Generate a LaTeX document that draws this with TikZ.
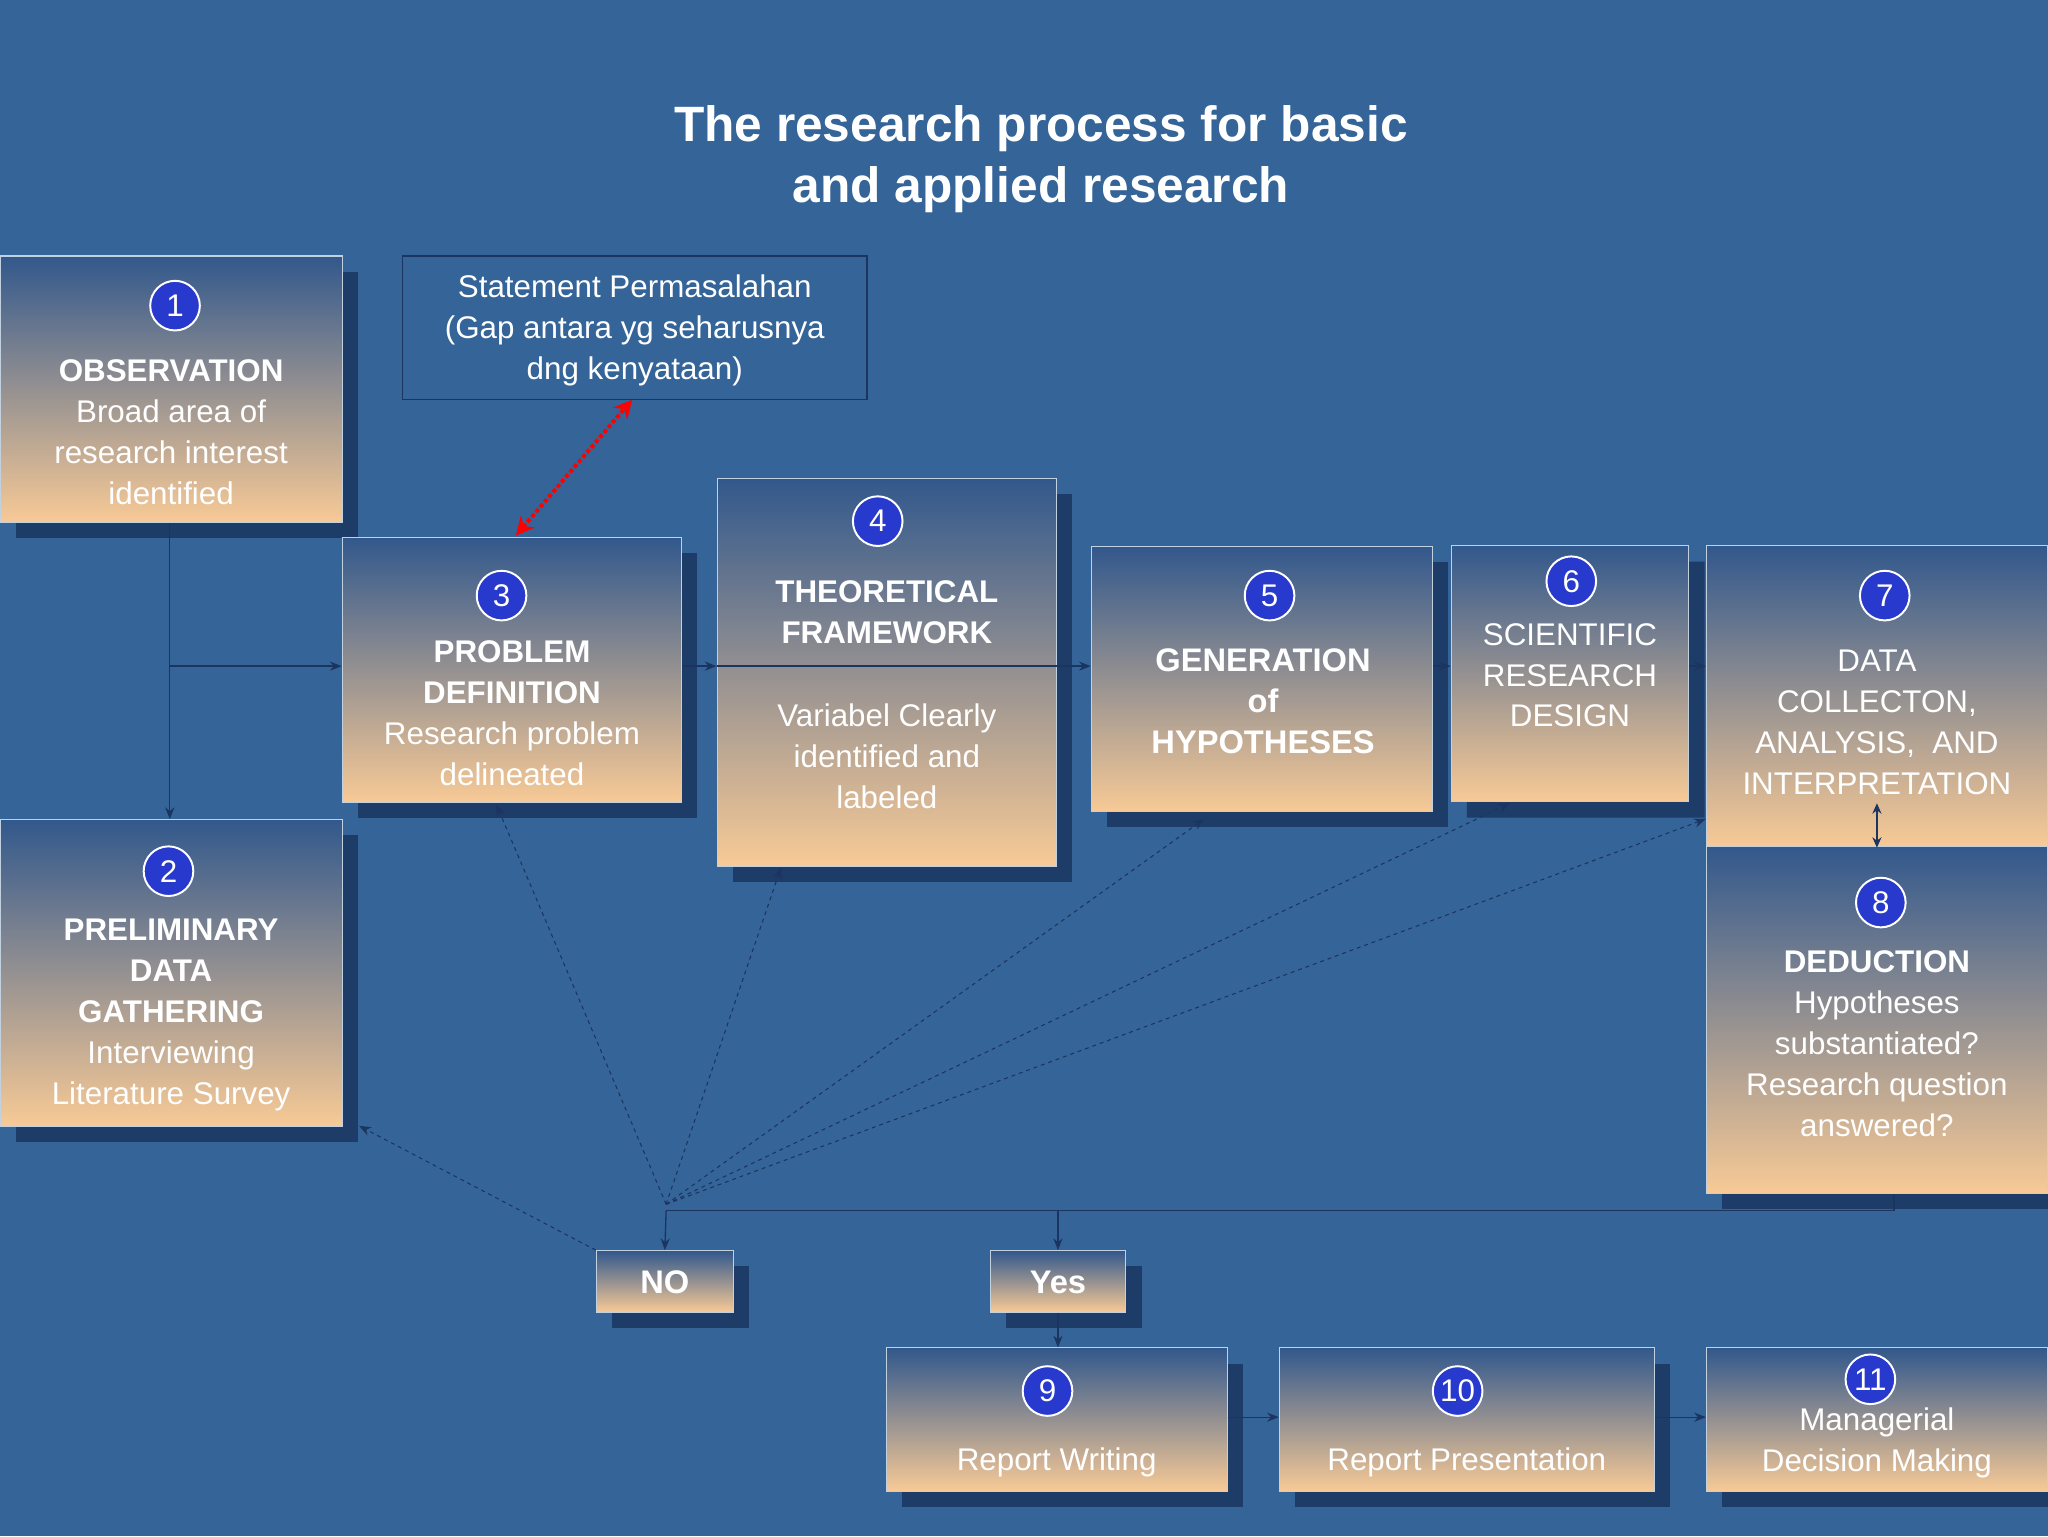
\documentclass[tikz,border=0pt]{standalone}
\usepackage{fontspec}
\setmainfont{Liberation Sans}
\usetikzlibrary{shadows,shapes.misc,arrows.meta}
\definecolor{bg}{RGB}{52,100,152}
\definecolor{btop}{RGB}{50,88,140}
\definecolor{bbot}{RGB}{248,202,150}
\definecolor{shc}{RGB}{30,60,104}
\definecolor{navy}{RGB}{28,52,96}
\definecolor{circ}{RGB}{40,58,205}
\tikzset{
 gbox/.style={draw=white!70!bg, line width=0.8pt, top color=btop, bottom color=bbot, inner sep=0pt,
   drop shadow={shadow xshift=12pt, shadow yshift=-12pt, fill=shc, opacity=1}},
 num/.style={circle, fill=circ, draw=white, line width=1.5pt, minimum size=38pt, inner sep=0pt, text=white, font=\fontsize{24}{24}\selectfont},
 txt/.style={text=white, align=center, font=\fontsize{24}{31.3}\selectfont},
 hd/.style={text=white, align=center, font=\bfseries\fontsize{25}{31.3}\selectfont},
 conn/.style={draw=navy, line width=1pt, -{Stealth[length=9pt,width=7pt]}},
 dconn/.style={draw=navy, line width=0.8pt, dashed, -{Stealth[length=9pt,width=7pt]}},
}
\begin{document}
\begin{tikzpicture}[x=1pt,y=-1pt]
\useasboundingbox[fill=bg] (0,0) rectangle (1568,1176);
\node[text=white, align=center, font=\bfseries\fontsize{38}{47}\selectfont] (title) at (797,122) {The research process for basic\\and applied research};
% boxes
\node[gbox, minimum width=262pt, minimum height=204pt] (b1) at (131,298) {};
\node[gbox, minimum width=262pt, minimum height=235pt] (b2) at (131,745) {};
\node[gbox, minimum width=260pt, minimum height=203pt] (b3) at (392,513) {};
\node[gbox, minimum width=260pt, minimum height=297pt] (b4) at (679,515) {};
\node[gbox, minimum width=261pt, minimum height=203pt] (b5) at (966,520) {};
\node[gbox, chamfered rectangle, chamfered rectangle xsep=30pt, chamfered rectangle ysep=30pt, minimum width=182pt, minimum height=196pt] (b6) at (1202,516) {};
\node[gbox, minimum width=261pt, minimum height=230pt] (b7) at (1437,533) {};
\node[gbox, minimum width=261pt, minimum height=266pt] (b8) at (1437,781) {};
\node[gbox, minimum width=105pt, minimum height=47pt] (no) at (509,981) {};
\node[gbox, minimum width=104pt, minimum height=47pt] (yes) at (810,981) {};
\node[gbox, minimum width=261pt, minimum height=110pt] (b9) at (809,1087) {};
\node[gbox, minimum width=287pt, minimum height=110pt] (b10) at (1123,1087) {};
\node[gbox, minimum width=261pt, minimum height=110pt] (b11) at (1437,1087) {};
\node[draw=navy, line width=1.2pt, minimum width=356pt, minimum height=110pt] (st) at (486,251) {};
% connectors
\coordinate (j1) at (130,510);
\draw[navy, line width=1pt] (b1.south -| 130,0) -- (j1);
\draw[conn] (j1) -- (b2.north -| j1);
\draw[conn] (j1) -- (b3.west |- j1);
\draw[conn] (b3.east |- j1) -- (b4.west |- j1);
\draw[navy, line width=1pt] (b4.west |- j1) -- (b4.east |- j1);
\draw[conn] (b4.east |- j1) -- (b5.west |- j1);
\draw[conn] (b5.east |- j1) -- (b6.west |- j1);
\draw[conn] (b6.east |- j1) -- (b7.west |- j1);
\draw[navy, line width=1pt, {Stealth[length=8pt,width=7pt]}-{Stealth[length=8pt,width=7pt]}] (1437,615) -- (1437,649);
\coordinate (j2) at (1450,927);
\coordinate (j3) at (510,927);
\draw[navy, line width=1pt] (b8.south -| j2) -- (j2) -- (j3);
\draw[conn] (j3) -- (no.north);
\draw[conn] (yes.north |- j3) -- (yes.north);
\draw[conn] (yes.south) -- (b9.north -| yes.south);
\draw[conn] (b9.east |- 0,1085) -- (b10.west |- 0,1085);
\draw[conn] (b10.east |- 0,1085) -- (b11.west |- 0,1085);
\coordinate (dn) at (510,922);
\draw[dconn] (no.north west) -- (275,862);
\draw[dconn] (dn) -- (380,616);
\draw[dconn] (dn) -- (598,664);
\draw[dconn] (dn) -- (922,627);
\draw[dconn] (dn) -- (1156,615);
\draw[dconn] (dn) -- (1306,627);
\draw[red, line width=3pt, dotted, {Stealth[length=14pt,width=14pt]}-{Stealth[length=14pt,width=14pt]}] (395,410) -- (484,306);
% circles
\node[num] (n1) at (134,234) {1};
\node[num] (n2) at (129,667) {2};
\node[num] (n3) at (384,456) {3};
\node[num] (n4) at (672,399) {4};
\node[num] (n5) at (972,456) {5};
\node[num] (n6) at (1203,445) {6};
\node[num] (n7) at (1443,456) {7};
\node[num] (n8) at (1440,691) {8};
\node[num] (n9) at (802,1065) {9};
\node[num] (n10) at (1116,1065) {10};
\node[num] (n11) at (1432,1056) {11};
% texts
\node[txt] (t1) at (131,331) {\textbf{OBSERVATION}\\Broad area of\\research interest\\identified};
\node[txt] (t2) at (131,777) {\textbf{PRELIMINARY}\\\textbf{DATA}\\\textbf{GATHERING}\\Interviewing\\Literature Survey};
\node[txt] (t3) at (392,546) {\textbf{PROBLEM}\\\textbf{DEFINITION}\\Research problem\\delineated};
\node[txt] (t4a) at (679,469) {\textbf{THEORETICAL}\\\textbf{FRAMEWORK}};
\node[txt] (t4b) at (679,579) {Variabel Clearly\\identified and\\labeled};
\node[hd] (t5) at (967,537) {GENERATION\\of\\HYPOTHESES};
\node[txt] (t6) at (1202,517) {SCIENTIFIC\\RESEARCH\\DESIGN};
\node[txt] (t7) at (1437,553) {DATA\\COLLECTON,\\ANALYSIS,\ \ AND\\INTERPRETATION};
\node[txt] (t8) at (1437,799) {\textbf{DEDUCTION}\\Hypotheses\\substantiated?\\Research question\\answered?};
\node[hd] (tno) at (509,982) {NO};
\node[hd] (tyes) at (810,982) {Yes};
\node[txt] (t9) at (809,1120) {Report Writing};
\node[txt] (t10) at (1123,1120) {Report Presentation};
\node[txt] (t11) at (1437,1105) {Managerial\\Decision Making};
\node[txt] (tst) at (486,253) {Statement Permasalahan\\(Gap antara yg seharusnya\\dng kenyataan)};
\end{tikzpicture}
\end{document}
